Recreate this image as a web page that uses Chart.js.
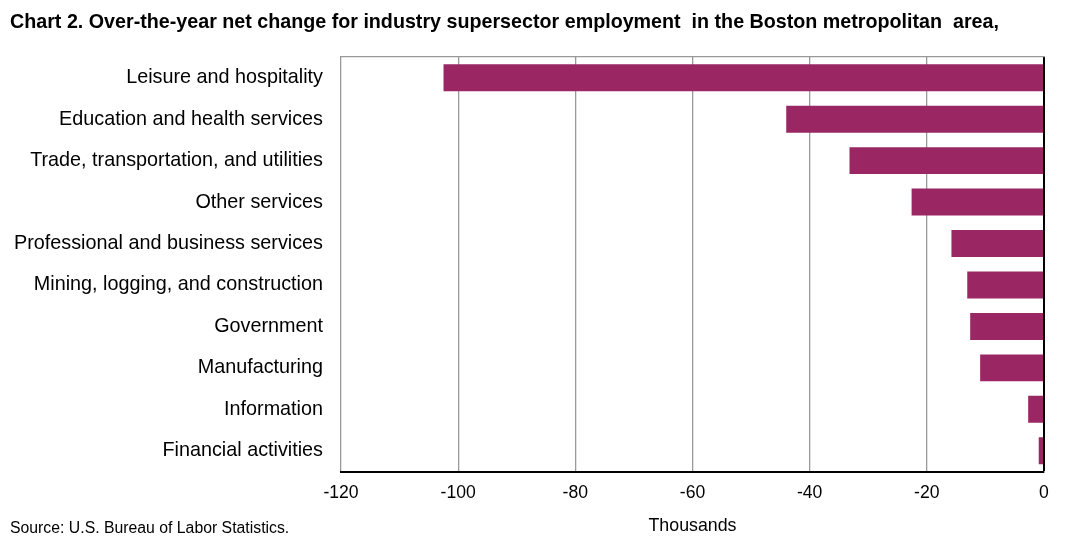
<!DOCTYPE html>
<html>
<head>
<meta charset="utf-8">
<script src="https://cdn.jsdelivr.net/npm/chart.js@4/dist/chart.umd.min.js"></script>
<style>
  html, body { margin: 0; padding: 0; background: #fff; }
  #wrap { width: 1069px; height: 539px; }
</style>
</head>
<body>
<div id="wrap"><canvas id="grafico"></canvas></div>
<script>
/* --------------- datos --------------- */
const sectores = [
    'Leisure and hospitality',
    'Education and health services',
    'Trade, transportation, and utilities',
    'Other services',
    'Professional and business services',
    'Mining, logging, and construction',
    'Government',
    'Manufacturing',
    'Information',
    'Financial activities'
];
const cambioNeto = [-102.5, -44.0, -33.2, -22.6, -15.8, -13.1, -12.6, -10.9, -2.7, -0.9];
const tituloGrafico = 'Chart 2. Over-the-year net change for industry supersector employment  in the Boston metropolitan  area,';
const fuente = 'Source: U.S. Bureau of Labor Statistics.';
const tituloEje = 'Thousands';

/* --------------- configuracion --------------- */
const fuenteTexto = 'Liberation Sans, Arial, sans-serif';

// titulo arriba y fuente abajo a la izquierda
const textosExtra = {
    id: 'textosExtra',
    afterDraw(chart) {
        const ctx = chart.ctx;
        ctx.save();
        ctx.fillStyle = '#000';
        ctx.textAlign = 'left';
        ctx.textBaseline = 'alphabetic';
        ctx.font = 'bold 19.7px ' + fuenteTexto;
        ctx.fillText(tituloGrafico, 10, 28);
        ctx.font = '15.8px ' + fuenteTexto;
        ctx.fillText(fuente, 10, 533);
        ctx.restore();
    }
};

new Chart(document.getElementById('grafico'), {
    type: 'bar',
    data: {
        labels: sectores,
        datasets: [{
            data: cambioNeto,
            backgroundColor: '#9a2763',
            borderWidth: 0,
            barPercentage: 0.65,
            categoryPercentage: 1
        }]
    },
    options: {
        indexAxis: 'y',
        responsive: true,
        maintainAspectRatio: false,
        animation: false,
        layout: {
            padding: { left: 10, right: 25, top: 57, bottom: 2 }
        },
        plugins: {
            legend: { display: false },
            tooltip: { enabled: false },
            title: { display: false }
        },
        scales: {
            x: {
                min: -120,
                max: 0,
                ticks: {
                    stepSize: 20,
                    color: '#000',
                    padding: 11.5,
                    font: { family: fuenteTexto, size: 17.6 }
                },
                grid: {
                    drawTicks: false,
                    color: (c) => c.tick && c.tick.value === 0 ? '#000' : '#999',
                    lineWidth: (c) => c.tick && c.tick.value === 0 ? 2 : 1.3
                },
                border: { color: '#000', width: 2 },
                title: {
                    display: true,
                    text: tituloEje,
                    color: '#000',
                    font: { family: fuenteTexto, size: 17.8 },
                    padding: { top: 0, bottom: 0 }
                }
            },
            x2: {
                position: 'top',
                min: -120,
                max: 0,
                ticks: { display: false },
                grid: { display: false, drawTicks: false },
                border: { color: '#999', width: 1.3, dash: [2, 1] }
            },
            y: {
                afterFit: (s) => { s.width = 331; },
                ticks: {
                    color: '#000',
                    padding: 18,
                    font: { family: fuenteTexto, size: 19.8 }
                },
                grid: { display: false, drawTicks: false },
                border: { display: false }
            }
        }
    },
    plugins: [textosExtra]
});
</script>
</body>
</html>
